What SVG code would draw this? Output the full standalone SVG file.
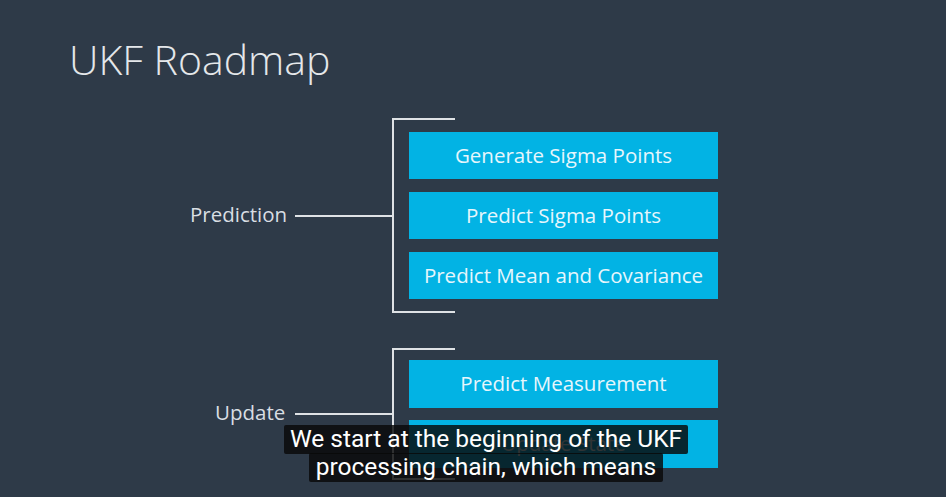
<svg xmlns="http://www.w3.org/2000/svg" width="946" height="497" viewBox="0 0 946 497">
<defs>
<style>
.bg{fill:#2e3a48}
.box{fill:#02b3e4}
.btxt{font-family:"Open Sans","Liberation Sans",sans-serif;font-size:20.5px;fill:#e6f6fc;text-anchor:middle}
.lbl{font-family:"Open Sans","Liberation Sans",sans-serif;font-size:20.5px;fill:#d9dee3}
.title{font-family:"Open Sans","Liberation Sans",sans-serif;font-weight:300;font-size:41px;fill:#e4e7ea}
.ln{fill:none;stroke:#dfe2e5;stroke-width:2}
.cap{fill:#080808;fill-opacity:0.82}
.ctxt{font-family:Roboto,"Liberation Sans",sans-serif;font-size:24.5px;fill:#ffffff;text-anchor:middle}
</style>
</defs>
<rect class="bg" x="0" y="0" width="946" height="497"/>
<text class="title" x="69" y="75">UKF Roadmap</text>
<g id="prediction">
<text class="lbl" x="190" y="222">Prediction</text>
</g>
<g id="update">
<text class="lbl" x="215" y="420">Update</text>
</g>
<g id="connectors">
<line class="ln" x1="295" y1="216" x2="393" y2="216"/>
<polyline class="ln" points="455,119 393,119 393,312 455,312"/>
<line class="ln" x1="295" y1="414" x2="393" y2="414"/>
<polyline class="ln" points="455,349 393,349 393,479 455,479"/>
</g>
<g id="generate-sigma-points">
<rect class="box" x="409" y="132" width="309" height="47"/>
<text class="btxt" x="563.5" y="163">Generate Sigma Points</text>
</g>
<g id="predict-sigma-points">
<rect class="box" x="409" y="192" width="309" height="47"/>
<text class="btxt" x="563.5" y="223">Predict Sigma Points</text>
</g>
<g id="predict-mean-covariance">
<rect class="box" x="409" y="252" width="309" height="47"/>
<text class="btxt" x="563.5" y="283">Predict Mean and Covariance</text>
</g>
<g id="predict-measurement">
<rect class="box" x="409" y="360" width="309" height="48"/>
<text class="btxt" x="563.5" y="391">Predict Measurement</text>
</g>
<g id="update-state">
<rect class="box" x="409" y="420" width="309" height="48"/>
<text class="btxt" x="563.5" y="451">Update State</text>
</g>
<g id="caption">
<rect class="cap" x="284" y="425" width="404" height="29" rx="2"/>
<rect class="cap" x="309" y="453" width="354" height="29" rx="2"/>
<text class="ctxt" x="486" y="447">We start at the beginning of the UKF</text>
<text class="ctxt" x="486" y="475">processing chain, which means</text>
</g>
</svg>
